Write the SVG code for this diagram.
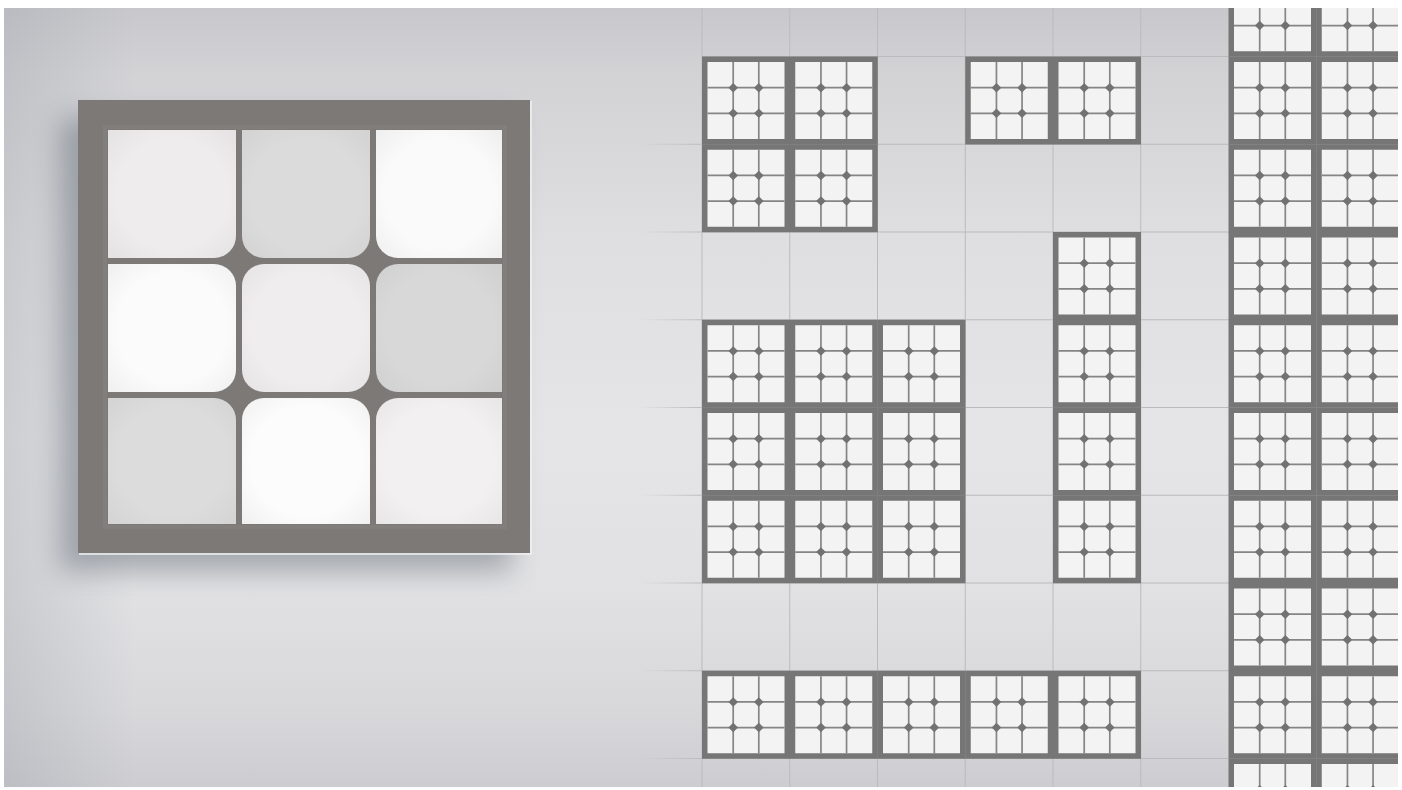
<svg xmlns="http://www.w3.org/2000/svg" xmlns:xlink="http://www.w3.org/1999/xlink" width="1402" height="790" viewBox="0 0 1402 790">
<style>
.grid line{stroke:#bbbbbe;stroke-width:1}
.frame{fill:#7c7977}
.sl{stroke:#858585;stroke-width:1.7}
.shade{fill:url(#sqShade)}
</style>
<defs>
<linearGradient id="bg" x1="0" y1="0" x2="0" y2="1">
<stop offset="0" stop-color="#c8c8cc"/>
<stop offset="0.08" stop-color="#d2d2d5"/>
<stop offset="0.3" stop-color="#dfdfe1"/>
<stop offset="0.55" stop-color="#e5e5e7"/>
<stop offset="0.75" stop-color="#e1e1e3"/>
<stop offset="0.9" stop-color="#d8d8db"/>
<stop offset="1" stop-color="#cdcdd1"/>
</linearGradient>
<linearGradient id="leftDark" x1="0" y1="0" x2="1" y2="0">
<stop offset="0" stop-color="#9ea3ab" stop-opacity="0.35"/>
<stop offset="1" stop-color="#9ea3ab" stop-opacity="0"/>
</linearGradient>
<linearGradient id="tickFade" x1="0" y1="0" x2="1" y2="0">
<stop offset="0" stop-color="#bbbbbe" stop-opacity="0"/>
<stop offset="1" stop-color="#bbbbbe" stop-opacity="1"/>
</linearGradient>
<radialGradient id="sqShade" cx="0.5" cy="0.5" r="0.72">
<stop offset="0.6" stop-color="#808080" stop-opacity="0"/>
<stop offset="1" stop-color="#808080" stop-opacity="0.1"/>
</radialGradient>
<filter id="blur" x="-30%" y="-30%" width="160%" height="160%">
<feGaussianBlur stdDeviation="14"/>
</filter>
<clipPath id="scene"><rect x="4" y="8" width="1394" height="779"/></clipPath>
<g id="tile">
<rect x="0" y="0" width="88" height="88" fill="#767676"/>
<rect x="5.5" y="5.5" width="77" height="77" fill="#f3f3f3"/>
<line class="sl" x1="31.2" y1="5.5" x2="31.2" y2="82.5"/>
<line class="sl" x1="56.8" y1="5.5" x2="56.8" y2="82.5"/>
<line class="sl" x1="5.5" y1="31.2" x2="82.5" y2="31.2"/>
<line class="sl" x1="5.5" y1="56.8" x2="82.5" y2="56.8"/>
<g fill="#727272">
<polygon points="31.2,26.4 36,31.2 31.2,36 26.4,31.2"/>
<polygon points="56.8,26.4 61.6,31.2 56.8,36 52,31.2"/>
<polygon points="31.2,52 36,56.8 31.2,61.6 26.4,56.8"/>
<polygon points="56.8,52 61.6,56.8 56.8,61.6 52,56.8"/>
</g>
</g>
<path id="sq1" d="M108,130 H236 V236 A22,22 0 0 1 214,258 H108 Z"/>
<path id="sq2" d="M242,130 H370 V236 A22,22 0 0 1 348,258 H264 A22,22 0 0 1 242,236 Z"/>
<path id="sq3" d="M376,130 H502 V258 H398 A22,22 0 0 1 376,236 Z"/>
<path id="sq4" d="M108,264 H214 A22,22 0 0 1 236,286 V370 A22,22 0 0 1 214,392 H108 Z"/>
<path id="sq5" d="M264,264 H348 A22,22 0 0 1 370,286 V370 A22,22 0 0 1 348,392 H264 A22,22 0 0 1 242,370 V286 A22,22 0 0 1 264,264 Z"/>
<path id="sq6" d="M398,264 H502 V392 H398 A22,22 0 0 1 376,370 V286 A22,22 0 0 1 398,264 Z"/>
<path id="sq7" d="M108,398 H214 A22,22 0 0 1 236,420 V524 H108 Z"/>
<path id="sq8" d="M264,398 H348 A22,22 0 0 1 370,420 V524 H242 V420 A22,22 0 0 1 264,398 Z"/>
<path id="sq9" d="M398,398 H502 V524 H376 V420 A22,22 0 0 1 398,398 Z"/>
</defs>
<rect width="1402" height="790" fill="#ffffff"/>
<g clip-path="url(#scene)">
<g id="background">
<rect x="4" y="8" width="1394" height="779" fill="url(#bg)"/>
<rect x="4" y="8" width="130" height="779" fill="url(#leftDark)"/>
</g>
<g id="grid" class="grid">
<line x1="702" y1="8" x2="702" y2="787"/>
<line x1="789.75" y1="8" x2="789.75" y2="787"/>
<line x1="877.5" y1="8" x2="877.5" y2="787"/>
<line x1="965.25" y1="8" x2="965.25" y2="787"/>
<line x1="1053" y1="8" x2="1053" y2="787"/>
<line x1="1140.75" y1="8" x2="1140.75" y2="787"/>
<line x1="702" y1="56.5" x2="1229" y2="56.5"/>
<line x1="702" y1="144.25" x2="1229" y2="144.25"/>
<line x1="702" y1="232" x2="1229" y2="232"/>
<line x1="702" y1="319.75" x2="1229" y2="319.75"/>
<line x1="702" y1="407.5" x2="1229" y2="407.5"/>
<line x1="702" y1="495.25" x2="1229" y2="495.25"/>
<line x1="702" y1="583" x2="1229" y2="583"/>
<line x1="702" y1="670.75" x2="1229" y2="670.75"/>
<line x1="702" y1="758.5" x2="1229" y2="758.5"/>
<g fill="url(#tickFade)">
<rect x="640" y="143.75" width="62" height="1"/>
<rect x="640" y="231.5" width="62" height="1"/>
<rect x="640" y="319.25" width="62" height="1"/>
<rect x="640" y="407" width="62" height="1"/>
<rect x="640" y="494.75" width="62" height="1"/>
<rect x="640" y="582.5" width="62" height="1"/>
<rect x="640" y="670.25" width="62" height="1"/>
<rect x="640" y="758" width="62" height="1"/>
</g>
</g>
<g id="big-tile">
<rect x="60" y="118" width="452" height="453" fill="#56606c" opacity="0.45" filter="url(#blur)"/>
<path d="M531,101 V554 H79" fill="none" stroke="#f4f4f6" stroke-width="2" opacity="0.7"/>
<rect class="frame" x="78" y="100" width="452" height="453"/>
<rect x="105" y="127" width="400" height="400" fill="none" stroke="#817e7c" stroke-width="4"/>
<use href="#sq1" fill="#eeecec"/><use href="#sq1" class="shade"/>
<use href="#sq2" fill="#dbdbdb"/><use href="#sq2" class="shade"/>
<use href="#sq3" fill="#fafafa"/><use href="#sq3" class="shade"/>
<use href="#sq4" fill="#fbfbfb"/><use href="#sq4" class="shade"/>
<use href="#sq5" fill="#efeded"/><use href="#sq5" class="shade"/>
<use href="#sq6" fill="#d8d8d8"/><use href="#sq6" class="shade"/>
<use href="#sq7" fill="#dcdcdc"/><use href="#sq7" class="shade"/>
<use href="#sq8" fill="#fcfcfc"/><use href="#sq8" class="shade"/>
<use href="#sq9" fill="#f2f0f0"/><use href="#sq9" class="shade"/>
</g>
<g id="tiles">
<use href="#tile" x="702" y="56.5"/>
<use href="#tile" x="789.75" y="56.5"/>
<use href="#tile" x="965.25" y="56.5"/>
<use href="#tile" x="1053" y="56.5"/>
<use href="#tile" x="702" y="144.25"/>
<use href="#tile" x="789.75" y="144.25"/>
<use href="#tile" x="1053" y="232"/>
<use href="#tile" x="702" y="319.75"/>
<use href="#tile" x="789.75" y="319.75"/>
<use href="#tile" x="877.5" y="319.75"/>
<use href="#tile" x="1053" y="319.75"/>
<use href="#tile" x="702" y="407.5"/>
<use href="#tile" x="789.75" y="407.5"/>
<use href="#tile" x="877.5" y="407.5"/>
<use href="#tile" x="1053" y="407.5"/>
<use href="#tile" x="702" y="495.25"/>
<use href="#tile" x="789.75" y="495.25"/>
<use href="#tile" x="877.5" y="495.25"/>
<use href="#tile" x="1053" y="495.25"/>
<use href="#tile" x="702" y="670.75"/>
<use href="#tile" x="789.75" y="670.75"/>
<use href="#tile" x="877.5" y="670.75"/>
<use href="#tile" x="965.25" y="670.75"/>
<use href="#tile" x="1053" y="670.75"/>
</g>
<g id="tile-column">
<use href="#tile" x="1228.5" y="-31.25"/><use href="#tile" x="1316.25" y="-31.25"/>
<use href="#tile" x="1228.5" y="56.5"/><use href="#tile" x="1316.25" y="56.5"/>
<use href="#tile" x="1228.5" y="144.25"/><use href="#tile" x="1316.25" y="144.25"/>
<use href="#tile" x="1228.5" y="232"/><use href="#tile" x="1316.25" y="232"/>
<use href="#tile" x="1228.5" y="319.75"/><use href="#tile" x="1316.25" y="319.75"/>
<use href="#tile" x="1228.5" y="407.5"/><use href="#tile" x="1316.25" y="407.5"/>
<use href="#tile" x="1228.5" y="495.25"/><use href="#tile" x="1316.25" y="495.25"/>
<use href="#tile" x="1228.5" y="583"/><use href="#tile" x="1316.25" y="583"/>
<use href="#tile" x="1228.5" y="670.75"/><use href="#tile" x="1316.25" y="670.75"/>
<use href="#tile" x="1228.5" y="758.5"/><use href="#tile" x="1316.25" y="758.5"/>
</g>
</g>
</svg>
